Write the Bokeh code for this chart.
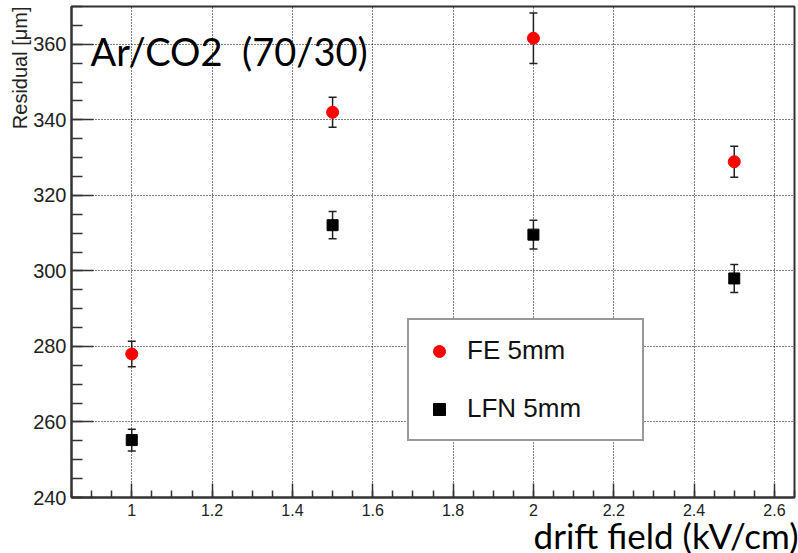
import math
from bokeh.plotting import figure
from bokeh.models import (ColumnDataSource, Whisker, TeeHead, Label, Legend, LegendItem,
                          SingleIntervalTicker, CustomJSTickFormatter, Range1d, Title)
from bokeh.embed import file_html
from bokeh.resources import INLINE

# ---- data ----
drift_field = [1.0, 1.5, 2.0, 2.5]
fe_residual = [278.0, 342.0, 361.6, 328.9]
fe_error = [3.4, 4.0, 6.7, 4.1]
lfn_residual = [255.2, 312.1, 309.6, 298.0]
lfn_error = [2.9, 3.6, 3.8, 3.7]

x_ticks_interval = 0.2
y_ticks_interval = 20

fe_src = ColumnDataSource(dict(
    x=drift_field, y=fe_residual,
    lo=[v - e for v, e in zip(fe_residual, fe_error)],
    hi=[v + e for v, e in zip(fe_residual, fe_error)]))
lfn_src = ColumnDataSource(dict(
    x=drift_field, y=lfn_residual,
    lo=[v - e for v, e in zip(lfn_residual, lfn_error)],
    hi=[v + e for v, e in zip(lfn_residual, lfn_error)]))

p = figure(width=798, height=553, output_backend="svg", toolbar_location=None,
           x_range=Range1d(0.85, 2.65), y_range=Range1d(240, 370))
p.min_border_left = 71
p.min_border_right = 4
p.min_border_top = 6
p.min_border_bottom = 56
p.background_fill_color = "white"
p.border_fill_color = "white"
p.outline_line_color = "#333333"
p.outline_line_width = 2

# axes
for ax in (p.xaxis[0], p.yaxis[0]):
    ax.axis_line_color = "#333333"
    ax.axis_line_width = 2
    ax.major_tick_line_color = "#333333"
    ax.minor_tick_line_color = "#333333"
    ax.major_tick_line_width = 1.5
    ax.minor_tick_line_width = 1.5
    ax.major_tick_out = 0
    ax.minor_tick_out = 0
    ax.major_label_text_font = "Liberation Sans"
    ax.major_label_text_color = "#222222"

p.xaxis.ticker = SingleIntervalTicker(interval=x_ticks_interval, num_minor_ticks=4)
p.yaxis.ticker = SingleIntervalTicker(interval=y_ticks_interval, num_minor_ticks=4)
p.xaxis.formatter = CustomJSTickFormatter(code="return String(Math.round(tick*10)/10);")
p.xaxis.major_tick_in = 14
p.xaxis.minor_tick_in = 7
p.yaxis.major_tick_in = 22
p.yaxis.minor_tick_in = 11
p.xaxis.major_label_text_font_size = "16px"
p.yaxis.major_label_text_font_size = "20px"
p.xaxis.major_label_standoff = 6
p.yaxis.major_label_standoff = 5

# axis titles, ROOT style (aligned to the end of each axis)
ytitle = Title(text="Residual [\u03bcm]", align="right", text_font="Liberation Sans",
               text_font_size="20px", text_font_style="normal",
               text_color="#222222", standoff=0, offset=0)
p.add_layout(ytitle, "left")

xtitle = Title(text="drift field (kV/cm)", align="right", text_font="Lato",
               text_font_size="35px", text_font_style="normal",
               text_color="black", vertical_align="bottom", offset=-4)
try:
    xtitle.standoff = -13
except Exception:
    xtitle.standoff = 0
p.add_layout(xtitle, "below")

# grid
for g in (p.xgrid[0], p.ygrid[0]):
    g.grid_line_color = "black"
    g.grid_line_dash = "1 2"
    g.grid_line_width = 1

# error bars
for src in (fe_src, lfn_src):
    w = Whisker(source=src, base="x", lower="lo", upper="hi",
                line_color="#222222", line_width=1.5,
                upper_head=TeeHead(size=8, line_color="#222222", line_width=1.5),
                lower_head=TeeHead(size=8, line_color="#222222", line_width=1.5))
    p.add_layout(w)

r_fe = p.scatter("x", "y", source=fe_src, marker="circle", size=12,
                 fill_color="#ff0000", line_color="#ff0000")
r_lfn = p.scatter("x", "y", source=lfn_src, marker="square", size=11,
                  fill_color="black", line_color="black")

legend = Legend(items=[LegendItem(label="FE 5mm", renderers=[r_fe]),
                       LegendItem(label="LFN 5mm", renderers=[r_lfn])],
                location=(336, 56))
legend.border_line_color = "#333333"
legend.border_line_width = 2
legend.background_fill_color = "white"
legend.background_fill_alpha = 1
legend.label_text_font = "Liberation Sans"
legend.label_text_font_size = "26px"
legend.label_text_color = "#111111"
legend.padding = 15
legend.spacing = 27
legend.glyph_width = 30
legend.glyph_height = 30
legend.label_height = 30
legend.label_standoff = 13
legend.label_width = 160
legend.margin = 0
p.add_layout(legend, "center")

# in-plot text
p.add_layout(Label(x=19, y=447, x_units="screen", y_units="screen",
                   text="Ar/CO2\u00a0 (70/30)", text_font="Lato", text_font_size="38px",
                   text_color="black", text_baseline="alphabetic", text_align="left"))

open("out.html", "w").write(file_html(p, INLINE))
